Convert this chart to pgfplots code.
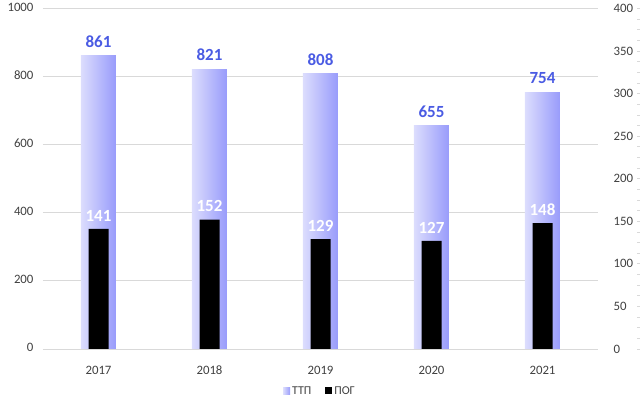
\documentclass[border=0pt]{standalone}
\usepackage{pgfplots}
\pgfplotsset{compat=1.18}
\usepackage{fontspec}
\setmainfont{Carlito}
\definecolor{lbar}{HTML}{DCDDFD}
\definecolor{rbar}{HTML}{989BFB}
\definecolor{lblue}{HTML}{4A5BE3}
\definecolor{gridc}{HTML}{D9D9D9}
\definecolor{tickc}{HTML}{404040}
\pgfplotsset{
  ttp/.style={ybar, bar width=35pt, bar shift=0pt, draw=none, left color=lbar, right color=rbar,
    nodes near coords,
    every node near coord/.append style={font=\bfseries\fontsize{17}{19}\selectfont, color=lblue, yshift=5pt}},
}
\begin{document}
\begin{tikzpicture}[x=1pt,y=1pt]
\path[use as bounding box] (0,0) rectangle (640,404);
\begin{axis}[
  at={(43pt,55pt)}, anchor=south west,
  scale only axis, width=555pt, height=340.5pt,
  xmin=-0.5, xmax=4.5, ymin=0, ymax=1000,
  axis line style={draw=none},
  ytick={0,200,...,1000}, ymajorgrids, grid style={gridc, line width=0.8pt},
  major tick length=0pt,
  xtick={0,1,2,3,4}, xticklabels={2017,2018,2019,2020,2021},
  /pgf/number format/assume math mode=true,
  /pgf/number format/1000 sep={},
  ticklabel style={font=\fontsize{12.8}{14}\selectfont, color=tickc},
  typeset ticklabels with strut,
  xticklabel style={yshift=-12pt},
  yticklabel style={xshift=-6pt},
  clip=false,
]
\addplot[ttp] coordinates {(0,861)};
\addplot[ttp] coordinates {(1,821)};
\addplot[ttp] coordinates {(2,808)};
\addplot[ttp] coordinates {(3,655)};
\addplot[ttp] coordinates {(4,754)};
\end{axis}
\begin{axis}[
  at={(43pt,55pt)}, anchor=south west,
  scale only axis, width=597pt, height=340.5pt,
  xmin=-0.5, xmax=4.878, ymin=0, ymax=400,
  axis x line=none,
  axis y line*=right,
  y axis line style={draw=none},
  ytick={0,50,...,400}, minor ytick={12.5,25,...,400},
  tick align=inside,
  major tick length=3pt, minor tick length=3pt,
  tick style={gridc, line width=0.8pt},
  /pgf/number format/assume math mode=true,
  yticklabel style={font=\fontsize{12.8}{14}\selectfont, color=tickc, anchor=west, xshift=-30pt},
  clip=false,
  legend style={at={(0.464,-0.1233)}, anchor=center, draw=none, fill=none,
    legend columns=2, font=\fontsize{12}{14}\selectfont, text=tickc,
    /tikz/every even column/.append style={column sep=12pt}},
  legend image code/.code={\fill[#1] (0pt,-3.5pt) rectangle (7pt,3.5pt);},
]
\addlegendimage{left color=lbar, right color=rbar, draw=none}
\addlegendentry{ТТП}
\addplot[ybar, bar width=20pt, bar shift=0pt, fill=black, draw=none,
  nodes near coords,
  every node near coord/.append style={font=\bfseries\fontsize{17}{19}\selectfont, color=white, yshift=4pt}]
  coordinates {(0,141) (1,152) (2,129) (3,127) (4,148)};
\addlegendentry{ПОГ}
\end{axis}
\end{tikzpicture}
\end{document}
